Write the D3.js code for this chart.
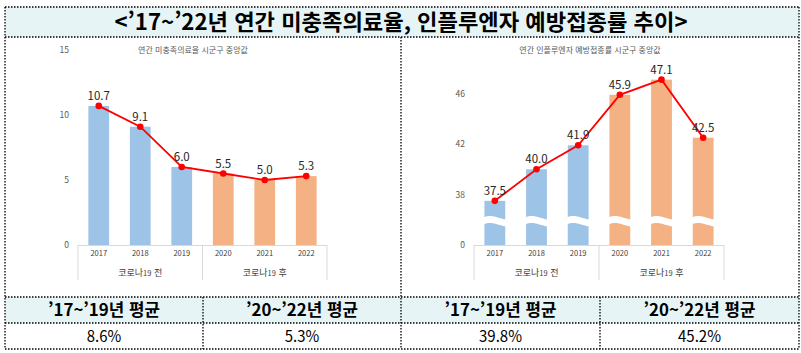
<!DOCTYPE html>
<html lang="ko">
<head>
<meta charset="utf-8">
<title>미충족의료율, 인플루엔자 예방접종률 추이</title>
<script src="https://d3js.org/d3.v7.min.js"></script>
<style>
  body { margin: 0; background: #fff; }
  text { font-family: "Noto Sans CJK KR", "Noto Sans", sans-serif; }
</style>
</head>
<body>
<div id="chart"></div>
<script>
// data
var years = ["2017", "2018", "2019", "2020", "2021", "2022"];
var unmetRate = [10.7, 9.1, 6.0, 5.5, 5.0, 5.3];
var fluRate = [37.5, 40.0, 41.9, 45.9, 47.1, 42.5];
var groups = [["코로나", "19", " 전"], ["코로나", "19", " 후"]];
var leftTicks = [0, 5, 10, 15];
var rightTicks = [34, 38, 42, 46];   // 34 is the axis base, shown as "0"
var titleText = "<’17~’22년 연간 미충족의료율, 인플루엔자 예방접종률 추이>";
var chartTitles = ["연간 미충족의료율 시군구 중앙값", "연간 인플루엔자 예방접종률 시군구 중앙값"];
var tableHeaders = ["’17~’19년 평균", "’20~’22년 평균", "’17~’19년 평균", "’20~’22년 평균"];
var tableValues = ["8.6%", "5.3%", "39.8%", "45.2%"];

var w = 801, h = 353;
var blue = "#9DC3E6", orange = "#F4B183", red = "#FF0000";
var lightBg = "#E6F4F6";

var svg = d3.select("#chart").append("svg")
  .attr("width", w).attr("height", h);

// frame: title band, chart area, table
var L = 5, R = 799, T = 7, titleB = 37, tableT = 297, rowM = 323, B = 349;
var cols = [L, 203, 401, 600, R];

svg.append("rect").attr("x", L).attr("y", T).attr("width", R - L).attr("height", titleB - T)
  .attr("fill", lightBg);
svg.append("rect").attr("x", L).attr("y", tableT).attr("width", R - L).attr("height", rowM - tableT)
  .attr("fill", lightBg);

function dotted(x1, y1, x2, y2) {
  svg.append("line").attr("x1", x1).attr("y1", y1).attr("x2", x2).attr("y2", y2)
    .attr("stroke", "#000").attr("stroke-width", 1.3).attr("stroke-dasharray", "1.5,1.5");
}
[T, titleB, tableT, rowM, B].forEach(function(y) { dotted(L, y, R, y); });
dotted(L, T, L, B);
dotted(R, T, R, B);
dotted(401, titleB, 401, B);
dotted(203, tableT, 203, B);
dotted(600, tableT, 600, B);

svg.append("text")
  .attr("x", (L + R) / 2 - 1).attr("y", 30)
  .attr("text-anchor", "middle")
  .attr("font-size", 22).attr("font-weight", "bold")
  .attr("textLength", 573).attr("lengthAdjust", "spacingAndGlyphs")
  .attr("fill", "#000")
  .text(titleText);

// table
tableHeaders.forEach(function(t, i) {
  svg.append("text")
    .attr("x", (cols[i] + cols[i + 1]) / 2).attr("y", 316)
    .attr("text-anchor", "middle").attr("font-size", 16.5).attr("font-weight", "bold")
    .attr("textLength", 112).attr("lengthAdjust", "spacingAndGlyphs")
    .attr("fill", "#000").text(t);
});
tableValues.forEach(function(t, i) {
  svg.append("text")
    .attr("x", (cols[i] + cols[i + 1]) / 2).attr("y", 342)
    .attr("text-anchor", "middle").attr("font-size", 15.5)
    .attr("textLength", t.length * 8.6).attr("lengthAdjust", "spacingAndGlyphs")
    .attr("fill", "#000").text(t);
});

// chart drawing
function drawChart(opt) {
  var x = d3.scaleBand().domain(years).range(opt.xr).paddingInner(0.5).paddingOuter(0.25);
  var y = d3.scaleLinear().domain(opt.domain).range([245, opt.top]);
  var g = svg.append("g");

  g.append("text")
    .attr("x", opt.titleX).attr("y", 53)
    .attr("text-anchor", "middle").attr("font-size", 8).attr("fill", "#595959")
    .text(opt.title);

  var yAxis = d3.axisLeft(y).tickValues(opt.ticks).tickSize(0).tickPadding(9)
    .tickFormat(opt.fmt);
  g.append("g").attr("transform", "translate(" + opt.xr[0] + ",0)").call(yAxis)
    .call(function(s) { s.select(".domain").remove(); })
    .selectAll("text").attr("font-size", 8.5).attr("fill", "#595959")
    .attr("font-family", "Noto Sans CJK KR");

  // bars
  g.selectAll("rect.bar").data(opt.values).enter().append("rect")
    .attr("class", "bar")
    .attr("x", function(d, i) { return x(years[i]); })
    .attr("y", function(d) { return y(d); })
    .attr("width", x.bandwidth())
    .attr("height", function(d) { return y(opt.domain[0]) - y(d); })
    .attr("fill", function(d, i) { return i < 3 ? blue : orange; });

  // axis break waves
  if (opt.wave) {
    g.selectAll("path.wave").data(years).enter().append("path")
      .attr("class", "wave")
      .attr("fill", "#fff")
      .attr("d", function(d) {
        var x0 = x(d) - 1, bw = x.bandwidth() + 2, x1 = x0 + bw;
        return "M" + x0 + ",217.5 C" + (x0 + bw * 0.35) + ",213.5 " + (x0 + bw * 0.6) + ",218 " + x1 + ",219.5" +
               " L" + x1 + ",226.5 C" + (x0 + bw * 0.6) + ",225 " + (x0 + bw * 0.35) + ",220.5 " + x0 + ",224.5 Z";
      });
  }

  // x axis line & separators
  var axisCol = "#D9D9D9";
  g.append("line").attr("x1", opt.xr[0]).attr("x2", opt.xr[1]).attr("y1", 245.5).attr("y2", 245.5)
    .attr("stroke", axisCol).attr("stroke-width", 1);
  var mid = (opt.xr[0] + opt.xr[1]) / 2;
  [opt.xr[0], mid, opt.xr[1]].forEach(function(sx) {
    g.append("line").attr("x1", sx).attr("x2", sx).attr("y1", 245).attr("y2", 280)
      .attr("stroke", axisCol).attr("stroke-width", 1);
  });

  var xAxis = d3.axisBottom(x).tickSize(0).tickPadding(6);
  g.append("g").attr("transform", "translate(0,245)").call(xAxis)
    .call(function(s) { s.select(".domain").remove(); })
    .selectAll("text").attr("font-size", 7.5).attr("fill", "#404040")
    .attr("font-family", "Noto Sans CJK KR");

  groups.forEach(function(gr, i) {
    var cx = i === 0 ? (opt.xr[0] + mid) / 2 : (mid + opt.xr[1]) / 2;
    var t = g.append("text").attr("x", cx).attr("y", 275.5)
      .attr("text-anchor", "middle").attr("font-size", 9).attr("fill", "#404040");
    t.append("tspan").text(gr[0]);
    t.append("tspan").attr("font-size", 7.5).text(gr[1]);
    t.append("tspan").text(gr[2]);
  });

  // line
  var line = d3.line()
    .x(function(d, i) { return x(years[i]) + x.bandwidth() / 2; })
    .y(function(d) { return y(d); });
  g.append("path").datum(opt.values)
    .attr("d", line).attr("fill", "none").attr("stroke", red).attr("stroke-width", 1.8);
  g.selectAll("circle").data(opt.values).enter().append("circle")
    .attr("cx", function(d, i) { return x(years[i]) + x.bandwidth() / 2; })
    .attr("cy", function(d) { return y(d); })
    .attr("r", 3.3).attr("fill", red);
  g.selectAll("text.lbl").data(opt.values).enter().append("text")
    .attr("class", "lbl")
    .attr("x", function(d, i) { return x(years[i]) + x.bandwidth() / 2; })
    .attr("y", function(d) { return y(d) - 6; })
    .attr("text-anchor", "middle").attr("font-size", 11.5).attr("fill", "#262626")
    .text(function(d) { return d.toFixed(1); });
}

drawChart({
  xr: [78, 327], domain: [0, 15], top: 50, ticks: leftTicks,
  fmt: function(d) { return d; }, values: unmetRate,
  title: chartTitles[0], titleX: 193, wave: false
});
drawChart({
  xr: [474, 724], domain: [34, 48], top: 68.3, ticks: rightTicks,
  fmt: function(d) { return d === 34 ? "0" : d; }, values: fluRate,
  title: chartTitles[1], titleX: 590, wave: true
});
</script>
</body>
</html>
